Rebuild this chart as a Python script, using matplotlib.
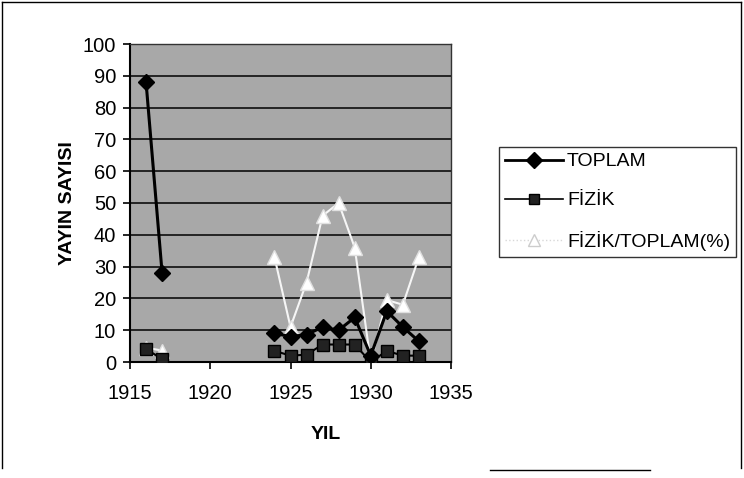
import numpy as np
import matplotlib
matplotlib.use('Agg')
import matplotlib.pyplot as plt
from matplotlib.lines import Line2D

plt.rcParams['font.family'] = ['Liberation Sans', 'DejaVu Sans']

# yillara gore yayin sayilari (1918-1923 arasi veri yok)
years = list(range(1916, 1934))
toplam = [88, 28, np.nan, np.nan, np.nan, np.nan, np.nan, np.nan,
          9, 8, 8.6, 11, 10, 14, 2, 16, 11, 6.5]
fizik = [4, 1, np.nan, np.nan, np.nan, np.nan, np.nan, np.nan,
         3.5, 2, 2.3, 5.5, 5.5, 5.5, 0, 3.5, 2, 2]
oran = [4.5, 3.6, np.nan, np.nan, np.nan, np.nan, np.nan, np.nan,
        33, 11, 25, 46, 50, 36, 0, 19.5, 18, 33]

series_names = ['TOPLAM', 'FİZİK', 'FİZİK/TOPLAM(%)']
xticks = [1915, 1920, 1925, 1930, 1935]
yticks = list(range(0, 101, 10))

fig = plt.figure(figsize=(7.44, 4.78), dpi=100)
ax = fig.add_axes([130 / 744, 116 / 478, 321 / 744, 318 / 478])
ax.set_facecolor('#a8a8a8')

for y in yticks[1:]:
    ax.axhline(y, color='black', lw=1.1, zorder=1)

ax.plot(years, oran, color='#f6f6f6', lw=1.5, marker='^', ms=10,
        mfc='white', mec='#e0e0e0', zorder=3)
ax.plot(years, fizik, color='black', lw=1.5, marker='s', ms=8,
        mfc='#222222', mec='black', zorder=4)
ax.plot(years, toplam, color='black', lw=2.2, marker='D', ms=8,
        mfc='black', mec='black', zorder=5)

ax.set_xlim(1915, 1935)
ax.set_ylim(0, 100)
ax.set_xticks(xticks)
ax.set_yticks(yticks)
ax.tick_params(axis='x', direction='out', length=5, width=1.2, pad=11, labelsize=14.5)
ax.tick_params(axis='y', direction='out', length=5, width=1.2, pad=5, labelsize=14.5)
for s in ['left', 'bottom']:
    ax.spines[s].set_linewidth(1.5)
for s in ['top', 'right']:
    ax.spines[s].set_linewidth(1.0)
    ax.spines[s].set_color('#333333')

ax.set_ylabel('YAYIN SAYISI', fontsize=14, fontweight='bold', labelpad=5)
ax.set_xlabel('YIL', fontsize=14, fontweight='bold')
ax.xaxis.set_label_coords(0.61, -0.2)

handles = [
    Line2D([], [], color='black', lw=2, marker='D', ms=8, mfc='black'),
    Line2D([], [], color='black', lw=1.2, marker='s', ms=7, mfc='#222222'),
    Line2D([], [], color='#d8d8d8', lw=1.0, ls=':', marker='^', ms=8,
           mfc='white', mec='#cccccc'),
]
leg = fig.legend(handles, series_names, loc='upper left',
                 bbox_to_anchor=(499 / 744, 1 - 147 / 478), borderaxespad=0,
                 fontsize=14, frameon=True, fancybox=False, handlelength=3.0,
                 handletextpad=0.2, labelspacing=1.1, borderpad=0.3)
leg.get_frame().set_edgecolor('black')
leg.get_frame().set_linewidth(1.0)

# dis cerceve
fig.add_artist(Line2D([2 / 744, 2 / 744], [0.02, 1 - 2 / 478], color='black', lw=1))
fig.add_artist(Line2D([2 / 744, 741 / 744], [1 - 2 / 478, 1 - 2 / 478], color='black', lw=1))
fig.add_artist(Line2D([741 / 744, 741 / 744], [0.02, 1 - 2 / 478], color='black', lw=1))
fig.add_artist(Line2D([490 / 744, 650 / 744], [1 - 470 / 478, 1 - 470 / 478], color='black', lw=1))

fig.savefig('out.png', dpi=100)
